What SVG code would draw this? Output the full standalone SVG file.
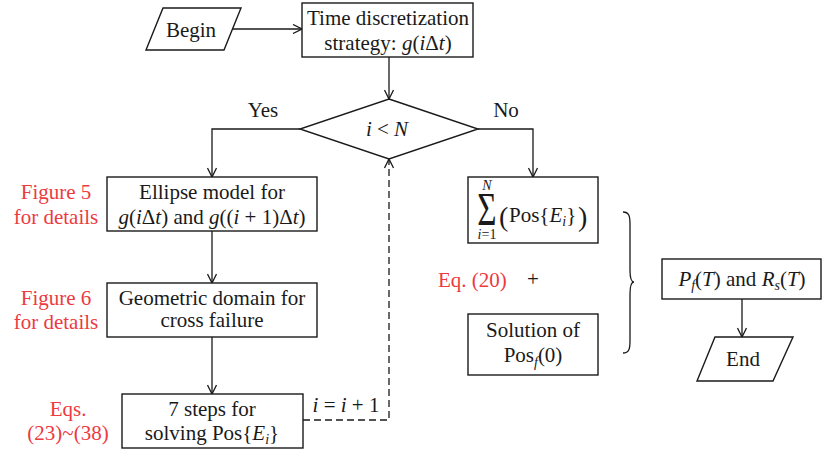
<svg xmlns="http://www.w3.org/2000/svg" width="822" height="453" viewBox="0 0 822 453">
<style>
text{font-family:"Liberation Serif",Tinos,"Times New Roman","DejaVu Serif",serif;font-size:21px;fill:#1a1a1a}
.c{text-anchor:middle}
.r{fill:#ec3a3f}
.i{font-style:italic}
.s{font-size:14px}
.box{fill:#fff;stroke:#1a1a1a;stroke-width:1.4}
.ln{fill:none;stroke:#1a1a1a;stroke-width:1.3}
.dash{fill:none;stroke:#1a1a1a;stroke-width:1.3;stroke-dasharray:7,4}
</style>
<defs>
<marker id="ah" viewBox="0 0 10 10" refX="10" refY="5" markerWidth="10" markerHeight="10" markerUnits="userSpaceOnUse" orient="auto">
<path d="M1,0.5 L10,5 L1,9.5" fill="none" stroke="#1a1a1a" stroke-width="1.3"/>
</marker>
</defs>
<g id="connectors">
<line class="ln" x1="232" y1="29" x2="302" y2="29" marker-end="url(#ah)"/>
<line class="ln" x1="389" y1="57" x2="389" y2="99" marker-end="url(#ah)"/>
<polyline class="ln" points="300,129 212,129 212,177" marker-end="url(#ah)"/>
<polyline class="ln" points="478,129 533,129 533,177" marker-end="url(#ah)"/>
<line class="ln" x1="212" y1="231" x2="212" y2="283" marker-end="url(#ah)"/>
<line class="ln" x1="212" y1="337" x2="212" y2="394" marker-end="url(#ah)"/>
<polyline class="dash" points="303,420 389,420 389,159" marker-end="url(#ah)"/>
<line class="ln" x1="742" y1="299" x2="742" y2="337" marker-end="url(#ah)"/>
<text class="c" x="263" y="117">Yes</text>
<text class="c" x="506" y="117">No</text>
<text class="c" x="346" y="412"><tspan class="i">i</tspan> = <tspan class="i">i</tspan> + 1</text>
</g>
<g id="begin">
<polygon class="box" points="163,8 241,8 224,50 146,50"/>
<text class="c" x="191" y="37">Begin</text>
</g>
<g id="time">
<rect class="box" x="302" y="3" width="171" height="54"/>
<text class="c" x="388" y="25">Time discretization</text>
<text class="c" x="388" y="50">strategy: <tspan class="i">g</tspan>(<tspan class="i">i</tspan>Δ<tspan class="i">t</tspan>)</text>
</g>
<g id="decision">
<polygon class="box" points="389,99 478,129 389,159 300,129"/>
<text class="c" x="387" y="136"><tspan class="i">i</tspan> &lt; <tspan class="i">N</tspan></text>
</g>
<g id="ellipse">
<rect class="box" x="107" y="177" width="210" height="54"/>
<text class="c" x="212" y="199">Ellipse model for</text>
<text class="c" x="212" y="224"><tspan class="i">g</tspan>(<tspan class="i">i</tspan>Δ<tspan class="i">t</tspan>) and <tspan class="i">g</tspan>((<tspan class="i">i</tspan> + 1)Δ<tspan class="i">t</tspan>)</text>
<text class="c r" x="56" y="199">Figure 5</text>
<text class="c r" x="56" y="224">for details</text>
</g>
<g id="geometric">
<rect class="box" x="107" y="283" width="210" height="54"/>
<text class="c" x="212" y="305">Geometric domain for</text>
<text class="c" x="212" y="327">cross failure</text>
<text class="c r" x="56" y="305">Figure 6</text>
<text class="c r" x="56" y="329">for details</text>
</g>
<g id="steps">
<rect class="box" x="122" y="394" width="181" height="54"/>
<text class="c" x="212" y="416">7 steps for</text>
<text class="c" x="212" y="440">solving Pos{<tspan class="i">E</tspan><tspan class="i s" dy="4">i</tspan><tspan dy="-4">}</tspan></text>
<text class="c r" x="68" y="416">Eqs.</text>
<text class="c r" x="68" y="440">(23)~(38)</text>
</g>
<g id="sum">
<rect class="box" x="468" y="177" width="130" height="66"/>
<text class="c i s" x="487" y="190">N</text>
<text class="c" transform="translate(487,225) scale(0.72,1)" style="font-size:46px">Σ</text>
<text class="c s" x="487" y="239"><tspan class="i">i</tspan>=1</text>
<text x="499" y="226" style="font-size:28px">(</text>
<text x="509" y="222">Pos{<tspan class="i">E</tspan><tspan class="i s" dy="4">i</tspan><tspan dy="-4">}</tspan></text>
<text x="578" y="226" style="font-size:28px">)</text>
</g>
<g id="eq20">
<text class="r" x="438" y="287">Eq. (20)</text>
<text class="c" x="533" y="286">+</text>
</g>
<g id="solution">
<rect class="box" x="468" y="314" width="130" height="61"/>
<text class="c" x="533" y="337">Solution of</text>
<text class="c" x="533" y="362">Pos<tspan class="i s" dy="5">f</tspan><tspan dy="-5">(0)</tspan></text>
</g>
<g id="brace">
<path class="ln" d="M623,212 C629,212 630,216 630,224 L630,270 C630,278 631,282 634,282 C631,282 630,286 630,294 L630,341 C630,349 629,353 623,353"/>
</g>
<g id="result">
<rect class="box" x="662" y="259" width="159" height="40"/>
<text class="c" x="742" y="286"><tspan class="i">P</tspan><tspan class="i s" dy="4">f</tspan><tspan dy="-4">(</tspan><tspan class="i">T</tspan>) and <tspan class="i">R</tspan><tspan class="i s" dy="4">s</tspan><tspan dy="-4">(</tspan><tspan class="i">T</tspan>)</text>
</g>
<g id="end">
<polygon class="box" points="715,337 793,337 773,381 697,381"/>
<text class="c" x="743" y="366">End</text>
</g>
</svg>
